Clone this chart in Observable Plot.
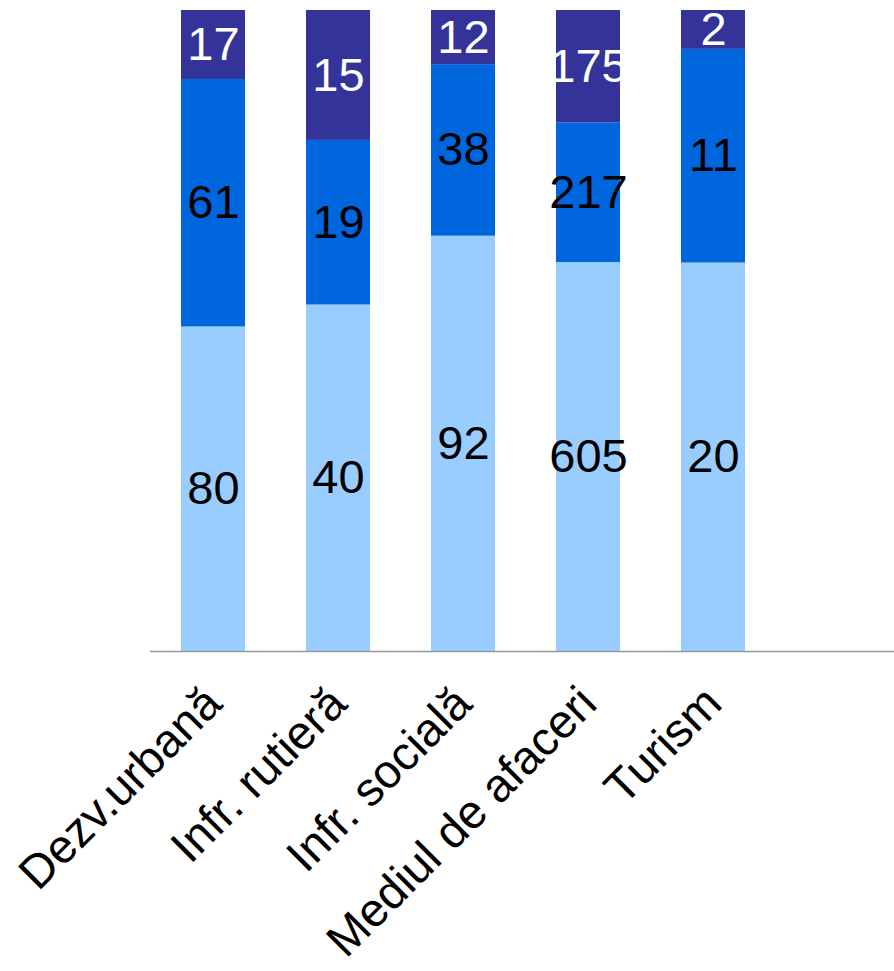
<!DOCTYPE html>
<html>
<head>
<meta charset="utf-8">
<script src="https://cdn.jsdelivr.net/npm/d3@7"></script>
<script src="https://cdn.jsdelivr.net/npm/@observablehq/plot@0.6"></script>
<style>
  html, body { margin: 0; padding: 0; background: #fff; }
  svg { display: block; }
</style>
</head>
<body>
<div id="chart"></div>
<script>
const categories = ["Dezv.urbană", "Infr. rutieră", "Infr. socială", "Mediul de afaceri", "Turism"];
const seriesNames = ["s1", "s2", "s3"];
const series1 = [80, 40, 92, 605, 20];
const series2 = [61, 19, 38, 217, 11];
const series3 = [17, 15, 12, 175, 2];
const colors = ["#99CCFF", "#0066DD", "#333399"];
const textColors = ["#000000", "#000000", "#ffffff"];

const allSeries = [series1, series2, series3];
const data = [];
allSeries.forEach((vals, si) => {
  vals.forEach((v, ci) => {
    data.push({cat: categories[ci], series: seriesNames[si], value: v, tcolor: textColors[si]});
  });
});

const chart = Plot.plot({
  width: 894,
  height: 971,
  marginLeft: 150,
  marginRight: 0,
  marginTop: 10,
  marginBottom: 320,
  style: {fontFamily: "'Liberation Sans', Arial, sans-serif", background: "#fff"},
  x: {domain: categories, range: [150, 775], paddingInner: 0.49, paddingOuter: 0.245, label: null},
  y: {axis: null, domain: [0, 1]},
  color: {domain: seriesNames, range: colors},
  marks: [
    Plot.barY(data, Plot.stackY({x: "cat", y: "value", fill: "series", order: seriesNames, offset: "normalize"})),
    Plot.text(data, Plot.stackY({x: "cat", y: "value", z: "series", text: d => String(d.value), fill: "tcolor", order: seriesNames, offset: "normalize", fontSize: 47})),
    Plot.ruleY([0], {stroke: "#999999", strokeWidth: 1.5}),
    Plot.axisX({tickSize: 0, tickRotate: -45, fontSize: 47, tickPadding: 44, fill: "#000", label: null})
  ]
});
document.getElementById("chart").appendChild(chart);
</script>
</body>
</html>
